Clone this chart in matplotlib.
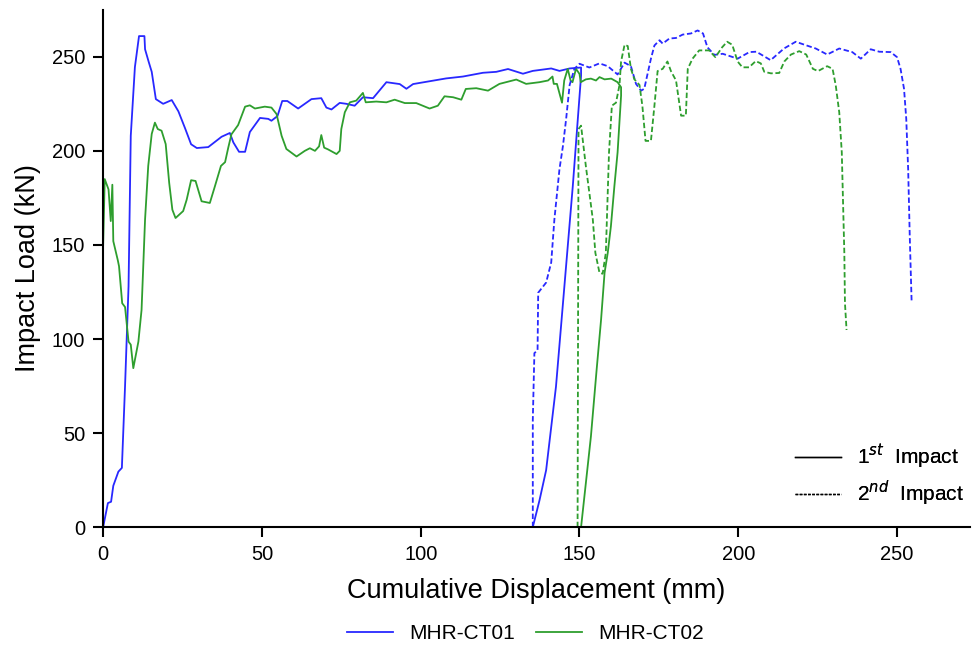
import numpy as np
import matplotlib.pyplot as plt
from matplotlib.lines import Line2D

plt.rcParams['font.family'] = ['Liberation Sans', 'DejaVu Sans']

# MHR-CT01, 1st impact (displacement mm, load kN)
ct01_1_x = [0, 1.5, 2.5, 3.2, 4.8, 5.9, 6.9, 8.0, 8.7, 10.0, 11.3, 13.0, 13.2, 14.4, 15.3,
            16.6, 18.9, 21.6, 23.7, 25.8, 27.7, 29.5, 33.1, 37.3, 39.9, 41.0, 42.8, 44.7,
            46.2, 49.4, 52.0, 53.0, 54.9, 56.4, 58.0, 61.4, 65.6, 68.7, 70.3, 71.9, 74.5,
            76.6, 79.2, 81.8, 85.0, 89.2, 93.4, 95.5, 97.6, 102.8, 108.0, 113.3, 119.6,
            123.8, 127.5, 132.2, 135.3, 141.1, 143.7, 146.9, 150.5,
            150.5, 147.9, 144.8, 142.6, 139.5, 137.4, 135.3]
ct01_1_y = [0, 12.8, 13.5, 22, 29.5, 31.5, 75, 128, 208, 244.5, 261, 261, 254, 247, 242,
            227.5, 225, 227, 221, 212, 203.5, 201.5, 202, 207.5, 209.5, 204.5, 199.5, 199.5,
            210, 217.5, 217, 216, 218.5, 226.5, 226.5, 222.5, 227.5, 228, 223, 222, 225.5,
            225, 224, 228.5, 228, 236.5, 235.5, 233, 235.5, 237, 238.5, 239.5, 241.5,
            242, 243.5, 241, 242.5, 243.8, 242.5, 243.8, 244.3,
            240, 181.4, 119, 74.7, 30.3, 14.2, 0]

# MHR-CT01, 2nd impact
ct01_2_x = [135.3, 135.3, 135.8, 136.8, 137.0, 139.5, 141.1, 142.1, 143.7, 144.8, 145.8,
            146.9, 148.4, 150.0, 153.1, 156.3, 158.9, 162.0, 164.2, 166.2, 167.8, 169.4,
            170.4, 172.5, 173.6, 175.2, 176.2, 178.3, 180.4, 182.5, 185.1, 187.2, 188.9,
            190.3, 192.5, 195.1, 199.8, 203.5, 205.7, 210.2, 214.4, 218.1, 221.2, 224.4,
            228.0, 231.8, 235.9, 238.6, 241.7, 244.4, 248.0, 250.0, 251.1, 252.2, 252.9,
            253.5, 254.0, 254.6]
ct01_2_y = [0, 57, 92.5, 94, 124.6, 130, 140.7, 163.6, 190.3, 202.7, 217,
            235, 243.6, 246.3, 244.3, 246.5, 245, 240.6, 246.9, 245, 235.6, 232,
            233, 249, 256, 258.8, 257, 259.7, 260, 261.8, 262.4, 264, 262.4,
            255, 251, 251.6, 249, 252.5, 252.7, 248.2, 254.4, 258, 256.2, 254.4,
            251.2, 254.4, 252.5, 249, 254, 252.7, 252.5, 249.8, 243.6, 233, 217,
            190.3, 154.8, 119.3]

# MHR-CT02, 1st impact
ct02_1_x = [0, 0.5, 1.7, 2.4, 2.9, 3.2, 4.6, 5.0, 6.0, 6.9, 8.0, 8.7, 9.5, 11.1, 12.1,
            13.2, 14.2, 15.3, 16.3, 17.2, 18.4, 19.7, 20.8, 21.8, 22.8, 25.2, 26.3, 27.7,
            29.1, 31.0, 33.6, 35.2, 37.1, 38.4, 39.4, 40.4, 42.5, 44.7, 46.2, 47.8, 50.9,
            53.0, 54.6, 56.2, 57.7, 60.9, 63.5, 65.1, 66.7, 68.0, 68.7, 69.6, 70.8, 73.5,
            74.5, 75.0, 76.1, 77.7, 79.7, 81.8, 82.7, 86.0, 89.2, 91.8, 95.0, 98.6, 102.8,
            105.4, 107.5, 110.2, 112.8, 114.2, 117.5, 121.2, 124.8, 130.1, 133.2, 137.4,
            140.1, 141.5, 141.9, 142.9, 144.5, 145.2, 146.3, 147.2, 147.8, 148.9, 150.0,
            150.4, 152.0, 153.6, 155.2, 156.3, 157.9, 160.0, 162.0, 163.1,
            163.1, 162.0, 161.0, 159.9, 158.9, 157.9, 156.8, 155.4, 153.6, 152.0, 150.5]
ct02_1_y = [150, 185, 179.5, 162.7, 182, 152, 142, 138.7, 119, 117, 98.6, 97, 84.5, 98.6, 115.5,
            163.5, 192, 209, 215, 211.6, 210.7, 203.6, 183, 168.7, 164.3, 168, 174, 184.4,
            184, 173.2, 172.3, 181.2, 192, 194, 201.7, 208.8, 213.7, 223.5, 224.2, 222.5, 223.5,
            223, 219.6, 208, 201, 197, 200, 201.4, 200, 202.4, 208.4, 201.7, 200.8, 198.3,
            200, 211.6, 220.5, 225.8, 226.7, 230.8, 225.8, 226.2, 225.8, 227.2, 225.4, 225.4, 222.5,
            224, 229, 228.5, 227.2, 232.9, 233.3, 232, 235.6, 237.9, 235.6, 236.5,
            237.4, 239.5, 235.6, 235.6, 225.6, 237.4, 243.6, 237.4, 236.5, 243.6, 240.9,
            236.5, 238, 238.4, 237.4, 239.2, 238, 238.4, 236.5, 233.8,
            229.3, 199.2, 181.4, 160, 145.8, 135.2, 110.3, 83.7, 48.2, 23.3, 0]

# MHR-CT02, 2nd impact
ct02_2_x = [149.4, 149.7, 150.5, 152.0, 153.1, 154.2, 155.0, 156.3, 157.3, 158.3, 159.3,
            160.2, 161.5, 162.6, 163.1, 164.2, 165.2, 166.2, 167.3, 168.9, 169.8, 170.8,
            172.5, 173.6, 174.6, 176.2, 177.7, 178.8, 180.4, 182.0, 183.5, 184.1, 185.6,
            187.7, 190.8, 192.8, 194.9, 196.5, 198.1, 199.8, 201.3, 203.4, 205.5, 207.1,
            208.2, 210.3, 212.9, 214.5, 216.6, 219.2, 221.4, 223.5, 225.1, 228.0, 229.7,
            230.7, 231.8, 232.6, 233.0, 233.4, 233.6, 234.1]
ct02_2_y = [0, 211.6, 213.4, 192, 177.8, 163.5, 145.8, 135.2, 134.7, 145.8, 199.2,
            224, 225.6, 235, 247.5, 256.4, 255.7, 243.6, 238, 235, 224, 205.3,
            205.3, 224, 242.4, 243.6, 247.5, 242.4, 237.4, 218.7, 218.7, 243.6, 249,
            253.4, 253.4, 249.8, 255, 258, 256.4, 247.5, 244.4, 244.4, 247.7, 246.5,
            242, 241.2, 241.4, 247.5, 251.2, 253, 251.2, 243.6, 242.4, 245, 243.6,
            234.8, 220.5, 199.2, 172.4, 145.8, 119, 104.8]

blue = '#2828ff'
green = '#2e9e2e'
dash = (0, (3, 1.5))

fig = plt.figure(figsize=(9.73, 6.5), dpi=100)
ax = fig.add_axes([0.106, 0.189, 0.891, 0.796])

ax.plot(ct01_1_x, ct01_1_y, c=blue, lw=1.3, label='MHR-CT01')
ax.plot(ct02_1_x, ct02_1_y, c=green, lw=1.3, label='MHR-CT02')
ax.plot(ct01_2_x, ct01_2_y, c=blue, lw=1.3, ls=dash)
ax.plot(ct02_2_x, ct02_2_y, c=green, lw=1.3, ls=dash)

ax.set_xlim(0, 273)
ax.set_ylim(0, 275)
ax.set_xticks(np.arange(0, 251, 50))
ax.set_yticks(np.arange(0, 251, 50))
ax.tick_params(labelsize=14.5, width=1.5, length=7, pad=6)
for s in ['top', 'right']:
    ax.spines[s].set_visible(False)
for s in ['left', 'bottom']:
    ax.spines[s].set_linewidth(1.5)

ax.set_xlabel('Cumulative Displacement (mm)', fontsize=19.5, labelpad=10)
ax.set_ylabel('Impact Load (kN)', fontsize=19.5, labelpad=8)

# line style legend
style_handles = [Line2D([], [], c='k', lw=1.0),
                 Line2D([], [], c='k', lw=1.0, ls=(0, (2, 1)))]
leg1 = ax.legend(style_handles, ['1$^{st}$  Impact', '2$^{nd}$  Impact'],
                 loc='lower right', bbox_to_anchor=(1.015, 0.0), frameon=False,
                 fontsize=15, handlelength=2.2, labelspacing=0.4)
ax.add_artist(leg1)

# specimen legend
fig.legend(handles=ax.get_lines()[:2], loc='lower center', ncol=2,
           bbox_to_anchor=(0.54, -0.018), frameon=False, fontsize=15,
           handlelength=2.2, columnspacing=1.0)

plt.savefig('out.png', dpi=100)
plt.close()
